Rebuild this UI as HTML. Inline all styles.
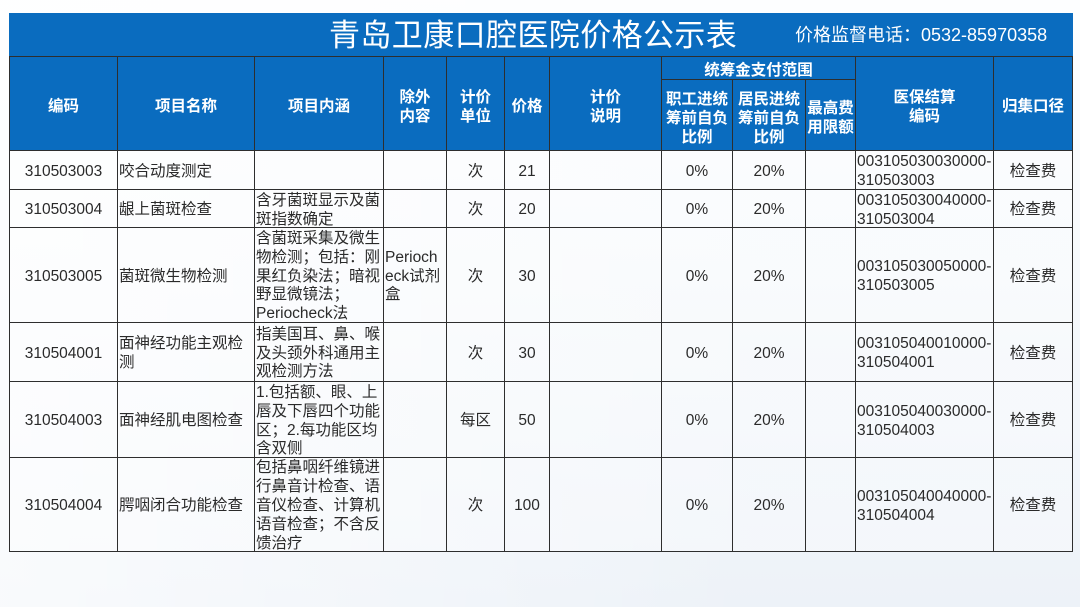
<!DOCTYPE html>
<html>
<head>
<meta charset="utf-8">
<style>
html,body{margin:0;padding:0;}
body{
  width:1080px;height:607px;overflow:hidden;position:relative;
  font-family:"Liberation Sans","Noto Sans CJK SC",sans-serif;
}
.bg{
  background:
    linear-gradient(90deg, rgba(255,255,255,.65) 0%, rgba(255,255,255,0) 70%),
    linear-gradient(180deg,#fdfeff 0%,#f6f9fc 45%,#edf2f8 100%);
  background-attachment:fixed;
}
#page{position:absolute;left:0;top:0;width:1080px;height:607px;}
#titlebar{
  position:absolute;left:9px;top:13px;width:1064px;height:43px;
  background:#0a6cbf;color:#fff;
}
#title{
  position:absolute;left:320px;top:0;height:43px;line-height:45px;
  font-size:31px;letter-spacing:0.4px;white-space:nowrap;
  font-family:"Liberation Sans","Noto Sans CJK SC",sans-serif;font-weight:400;
}
#phone{
  position:absolute;left:786px;top:0;height:43px;line-height:45px;
  font-size:18px;white-space:nowrap;
}
#grid{
  position:absolute;left:9px;top:56px;width:1064px;height:496px;
  box-sizing:border-box;padding:1px;background:#2e2e2e;
  display:grid;
  grid-template-columns:107px 136px 128px 62px 57px 44px 111px 70px 72px 49px 137px 78px;
  grid-template-rows:22px 70px 38px 37px 94px 58px 75px 93px;
  gap:1px;
}
.h{
  background:#0a6cbf;color:#fff;font-weight:bold;
  font-size:15.5px;line-height:19px;
  display:flex;align-items:center;justify-content:center;text-align:center;
  white-space:nowrap;box-sizing:border-box;padding-top:6px;
}
.h.s{padding-top:4px;}
.d{
  color:#2a2a2a;font-size:15.5px;line-height:18.9px;
  display:flex;align-items:center;white-space:nowrap;
  box-sizing:border-box;padding-top:4px;
  background:
    linear-gradient(90deg, rgba(255,255,255,.75) 0%, rgba(255,255,255,.3) 70%),
    linear-gradient(180deg,#fdfeff 0%,#f6f9fc 45%,#edf2f8 100%);
  background-attachment:fixed;
}
.c{justify-content:center;text-align:center;}
.l{justify-content:flex-start;text-align:left;padding-left:1px;}
</style>
</head>
<body>
<div id="page" class="bg"></div>

<div id="titlebar">
  <div id="title">青岛卫康口腔医院价格公示表</div>
  <div id="phone">价格监督电话：0532-85970358</div>
</div>

<div id="grid">
  <div class="h" style="grid-column:1;grid-row:1 / span 2;">编码</div>
  <div class="h" style="grid-column:2;grid-row:1 / span 2;">项目名称</div>
  <div class="h" style="grid-column:3;grid-row:1 / span 2;">项目内涵</div>
  <div class="h" style="grid-column:4;grid-row:1 / span 2;">除外<br>内容</div>
  <div class="h" style="grid-column:5;grid-row:1 / span 2;">计价<br>单位</div>
  <div class="h" style="grid-column:6;grid-row:1 / span 2;">价格</div>
  <div class="h" style="grid-column:7;grid-row:1 / span 2;">计价<br>说明</div>
  <div class="h s" style="grid-column:8 / span 3;grid-row:1;">统筹金支付范围</div>
  <div class="h" style="grid-column:11;grid-row:1 / span 2;">医保结算<br>编码</div>
  <div class="h" style="grid-column:12;grid-row:1 / span 2;">归集口径</div>
  <div class="h" style="grid-column:8;grid-row:2;">职工进统<br>筹前自负<br>比例</div>
  <div class="h" style="grid-column:9;grid-row:2;">居民进统<br>筹前自负<br>比例</div>
  <div class="h" style="grid-column:10;grid-row:2;">最高费<br>用限额</div>

  <!-- row 1 -->
  <div class="d c" style="grid-row:3;grid-column:1;">310503003</div>
  <div class="d l" style="grid-row:3;grid-column:2;">咬合动度测定</div>
  <div class="d l" style="grid-row:3;grid-column:3;"></div>
  <div class="d l" style="grid-row:3;grid-column:4;"></div>
  <div class="d c" style="grid-row:3;grid-column:5;">次</div>
  <div class="d c" style="grid-row:3;grid-column:6;">21</div>
  <div class="d c" style="grid-row:3;grid-column:7;"></div>
  <div class="d c" style="grid-row:3;grid-column:8;">0%</div>
  <div class="d c" style="grid-row:3;grid-column:9;">20%</div>
  <div class="d c" style="grid-row:3;grid-column:10;"></div>
  <div class="d l" style="grid-row:3;grid-column:11;">003105030030000-<br>310503003</div>
  <div class="d c" style="grid-row:3;grid-column:12;">检查费</div>

  <!-- row 2 -->
  <div class="d c" style="grid-row:4;grid-column:1;">310503004</div>
  <div class="d l" style="grid-row:4;grid-column:2;">龈上菌斑检查</div>
  <div class="d l" style="grid-row:4;grid-column:3;">含牙菌斑显示及菌<br>斑指数确定</div>
  <div class="d l" style="grid-row:4;grid-column:4;"></div>
  <div class="d c" style="grid-row:4;grid-column:5;">次</div>
  <div class="d c" style="grid-row:4;grid-column:6;">20</div>
  <div class="d c" style="grid-row:4;grid-column:7;"></div>
  <div class="d c" style="grid-row:4;grid-column:8;">0%</div>
  <div class="d c" style="grid-row:4;grid-column:9;">20%</div>
  <div class="d c" style="grid-row:4;grid-column:10;"></div>
  <div class="d l" style="grid-row:4;grid-column:11;">003105030040000-<br>310503004</div>
  <div class="d c" style="grid-row:4;grid-column:12;">检查费</div>

  <!-- row 3 -->
  <div class="d c" style="grid-row:5;grid-column:1;">310503005</div>
  <div class="d l" style="grid-row:5;grid-column:2;">菌斑微生物检测</div>
  <div class="d l" style="grid-row:5;grid-column:3;">含菌斑采集及微生<br>物检测；包括：刚<br>果红负染法；暗视<br>野显微镜法；<br>Periocheck法</div>
  <div class="d l" style="grid-row:5;grid-column:4;">Perioch<br>eck试剂<br>盒</div>
  <div class="d c" style="grid-row:5;grid-column:5;">次</div>
  <div class="d c" style="grid-row:5;grid-column:6;">30</div>
  <div class="d c" style="grid-row:5;grid-column:7;"></div>
  <div class="d c" style="grid-row:5;grid-column:8;">0%</div>
  <div class="d c" style="grid-row:5;grid-column:9;">20%</div>
  <div class="d c" style="grid-row:5;grid-column:10;"></div>
  <div class="d l" style="grid-row:5;grid-column:11;">003105030050000-<br>310503005</div>
  <div class="d c" style="grid-row:5;grid-column:12;">检查费</div>

  <!-- row 4 -->
  <div class="d c" style="grid-row:6;grid-column:1;">310504001</div>
  <div class="d l" style="grid-row:6;grid-column:2;">面神经功能主观检<br>测</div>
  <div class="d l" style="grid-row:6;grid-column:3;">指美国耳、鼻、喉<br>及头颈外科通用主<br>观检测方法</div>
  <div class="d l" style="grid-row:6;grid-column:4;"></div>
  <div class="d c" style="grid-row:6;grid-column:5;">次</div>
  <div class="d c" style="grid-row:6;grid-column:6;">30</div>
  <div class="d c" style="grid-row:6;grid-column:7;"></div>
  <div class="d c" style="grid-row:6;grid-column:8;">0%</div>
  <div class="d c" style="grid-row:6;grid-column:9;">20%</div>
  <div class="d c" style="grid-row:6;grid-column:10;"></div>
  <div class="d l" style="grid-row:6;grid-column:11;">003105040010000-<br>310504001</div>
  <div class="d c" style="grid-row:6;grid-column:12;">检查费</div>

  <!-- row 5 -->
  <div class="d c" style="grid-row:7;grid-column:1;">310504003</div>
  <div class="d l" style="grid-row:7;grid-column:2;">面神经肌电图检查</div>
  <div class="d l" style="grid-row:7;grid-column:3;">1.包括额、眼、上<br>唇及下唇四个功能<br>区；2.每功能区均<br>含双侧</div>
  <div class="d l" style="grid-row:7;grid-column:4;"></div>
  <div class="d c" style="grid-row:7;grid-column:5;">每区</div>
  <div class="d c" style="grid-row:7;grid-column:6;">50</div>
  <div class="d c" style="grid-row:7;grid-column:7;"></div>
  <div class="d c" style="grid-row:7;grid-column:8;">0%</div>
  <div class="d c" style="grid-row:7;grid-column:9;">20%</div>
  <div class="d c" style="grid-row:7;grid-column:10;"></div>
  <div class="d l" style="grid-row:7;grid-column:11;">003105040030000-<br>310504003</div>
  <div class="d c" style="grid-row:7;grid-column:12;">检查费</div>

  <!-- row 6 -->
  <div class="d c" style="grid-row:8;grid-column:1;">310504004</div>
  <div class="d l" style="grid-row:8;grid-column:2;">腭咽闭合功能检查</div>
  <div class="d l" style="grid-row:8;grid-column:3;">包括鼻咽纤维镜进<br>行鼻音计检查、语<br>音仪检查、计算机<br>语音检查；不含反<br>馈治疗</div>
  <div class="d l" style="grid-row:8;grid-column:4;"></div>
  <div class="d c" style="grid-row:8;grid-column:5;">次</div>
  <div class="d c" style="grid-row:8;grid-column:6;">100</div>
  <div class="d c" style="grid-row:8;grid-column:7;"></div>
  <div class="d c" style="grid-row:8;grid-column:8;">0%</div>
  <div class="d c" style="grid-row:8;grid-column:9;">20%</div>
  <div class="d c" style="grid-row:8;grid-column:10;"></div>
  <div class="d l" style="grid-row:8;grid-column:11;">003105040040000-<br>310504004</div>
  <div class="d c" style="grid-row:8;grid-column:12;">检查费</div>
</div>
</body>
</html>
